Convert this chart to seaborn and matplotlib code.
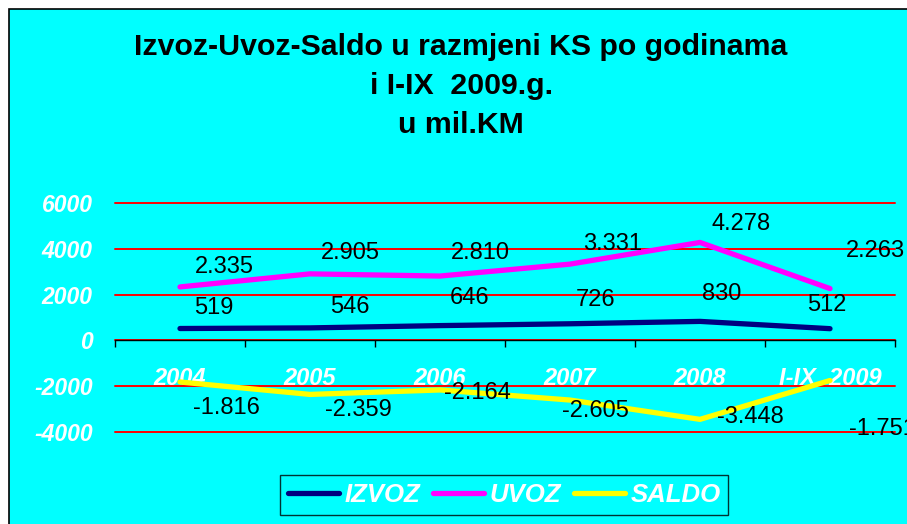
import numpy as np
import pandas as pd
import matplotlib
matplotlib.use("Agg")
import matplotlib.pyplot as plt
import seaborn as sns
from matplotlib.lines import Line2D
from matplotlib.patches import Rectangle

sns.set_style("white")
plt.rcParams['font.family'] = ['Liberation Sans', 'DejaVu Sans']
plt.rcParams['text.color'] = 'black'

# podaci u mil. KM
godine = ['2004', '2005', '2006', '2007', '2008', 'I-IX  2009']
izvoz = [519, 546, 646, 726, 830, 512]
uvoz = [2335, 2905, 2810, 3331, 4278, 2263]
saldo = [-1816, -2359, -2164, -2605, -3448, -1751]

serije = ['IZVOZ', 'UVOZ', 'SALDO']
boje = {'IZVOZ': '#000080', 'UVOZ': '#FF00FF', 'SALDO': '#FFFF00'}

# pomaci natpisa (px) - rucno namjesteni kao u excelu
pomak = {
    'IZVOZ': [(34, 21), (40, 21), (30, 28), (26, 24), (22, 27), (-3, 24)],
    'UVOZ': [(44, 20), (40, 21), (40, 23), (43, 20), (41, 18), (45, 38)],
    'SALDO': [(46, -26), (48, -16), (37, -3), (25, -11), (50, 2), (52, -49)],
}

x = np.arange(len(godine))
df = pd.DataFrame({'x': np.tile(x, 3),
                   'vrijednost': izvoz + uvoz + saldo,
                   'serija': np.repeat(serije, len(godine))})

cyan = '#00FFFF'
fig = plt.figure(figsize=(9.07, 5.24), dpi=100, facecolor='white')
fig.patches.append(Rectangle((9 / 907, -0.05), 1.1, 1 - 9 / 524 + 0.05,
                             transform=fig.transFigure, facecolor=cyan,
                             edgecolor='black', lw=1.2, zorder=-10))

ax = fig.add_axes([115 / 907, 1 - 432 / 524, 780 / 907, 229 / 524])
ax.set_facecolor(cyan)
ax.patch.set_alpha(0)

sns.lineplot(data=df, x='x', y='vrijednost', hue='serija', hue_order=serije,
             palette=boje, lw=3.8, solid_capstyle='round', legend=False, ax=ax,
             zorder=3)

ax.set_xlim(-0.5, 5.5)
ax.set_ylim(-4000, 6000)
ax.set_yticks(range(-4000, 6001, 2000))
ax.set_yticklabels([str(v) for v in range(-4000, 6001, 2000)],
                   color='white', fontweight='bold', fontstyle='italic', fontsize=16.5)
ax.tick_params(axis='y', length=0, pad=16)
ax.yaxis.grid(True, color='red', lw=1.4)
for gl in ax.get_ygridlines():
    gl.set_clip_on(False)
ax.set_axisbelow(True)

for s in ['left', 'right', 'top']:
    ax.spines[s].set_visible(False)
ax.spines['bottom'].set_position(('data', 0))
ax.spines['bottom'].set_color('black')
ax.spines['bottom'].set_linewidth(1)
ax.spines['bottom'].set_zorder(2)

ax.set_xticks(np.arange(-0.5, 6, 1))
ax.set_xticklabels([])
ax.tick_params(axis='x', which='major', direction='out', length=5, width=1, color='black', bottom=True)
ax.set_xticks(x, godine, minor=True)
ax.tick_params(axis='x', which='minor', length=0, pad=19)
for t in ax.get_xticklabels(minor=True):
    t.set_color('white')
    t.set_fontweight('bold')
    t.set_fontstyle('italic')
    t.set_fontsize(17)
ax.set_xlabel('')
ax.set_ylabel('')

# natpisi vrijednosti
vrijednosti = {'IZVOZ': izvoz, 'UVOZ': uvoz, 'SALDO': saldo}
for s in serije:
    for i, v in enumerate(vrijednosti[s]):
        txt = f"{v / 1000:.3f}" if abs(v) >= 1000 else str(v)
        ax.annotate(txt, (x[i], v), xytext=pomak[s][i], textcoords='offset pixels',
                    ha='center', va='center', fontsize=17, color='black',
                    annotation_clip=False, zorder=4)

# naslov
naslov = ['Izvoz-Uvoz-Saldo u razmjeni KS po godinama', 'i I-IX  2009.g.', 'u mil.KM']
for k, red in enumerate(naslov):
    fig.text(461 / 907, 1 - (47 + 39 * k) / 524, red, ha='center', va='center',
             fontsize=21.8, fontweight='bold', color='black')

handles = [Line2D([0], [0], color=boje[s], lw=3.8, solid_capstyle='round') for s in serije]
leg = fig.legend(handles, serije, loc='center', bbox_to_anchor=(504 / 907, 1 - 495 / 524),
                 ncol=3, frameon=True, fancybox=False, handlelength=2.0,
                 columnspacing=0.5, handletextpad=0.2, borderpad=0.3,
                 prop={'weight': 'bold', 'style': 'italic', 'size': 18.5})
leg.get_frame().set_facecolor(cyan)
leg.get_frame().set_edgecolor('black')
leg.get_frame().set_linewidth(1)
for t in leg.get_texts():
    t.set_color('white')

fig.savefig('out.png', dpi=100, facecolor=fig.get_facecolor())
